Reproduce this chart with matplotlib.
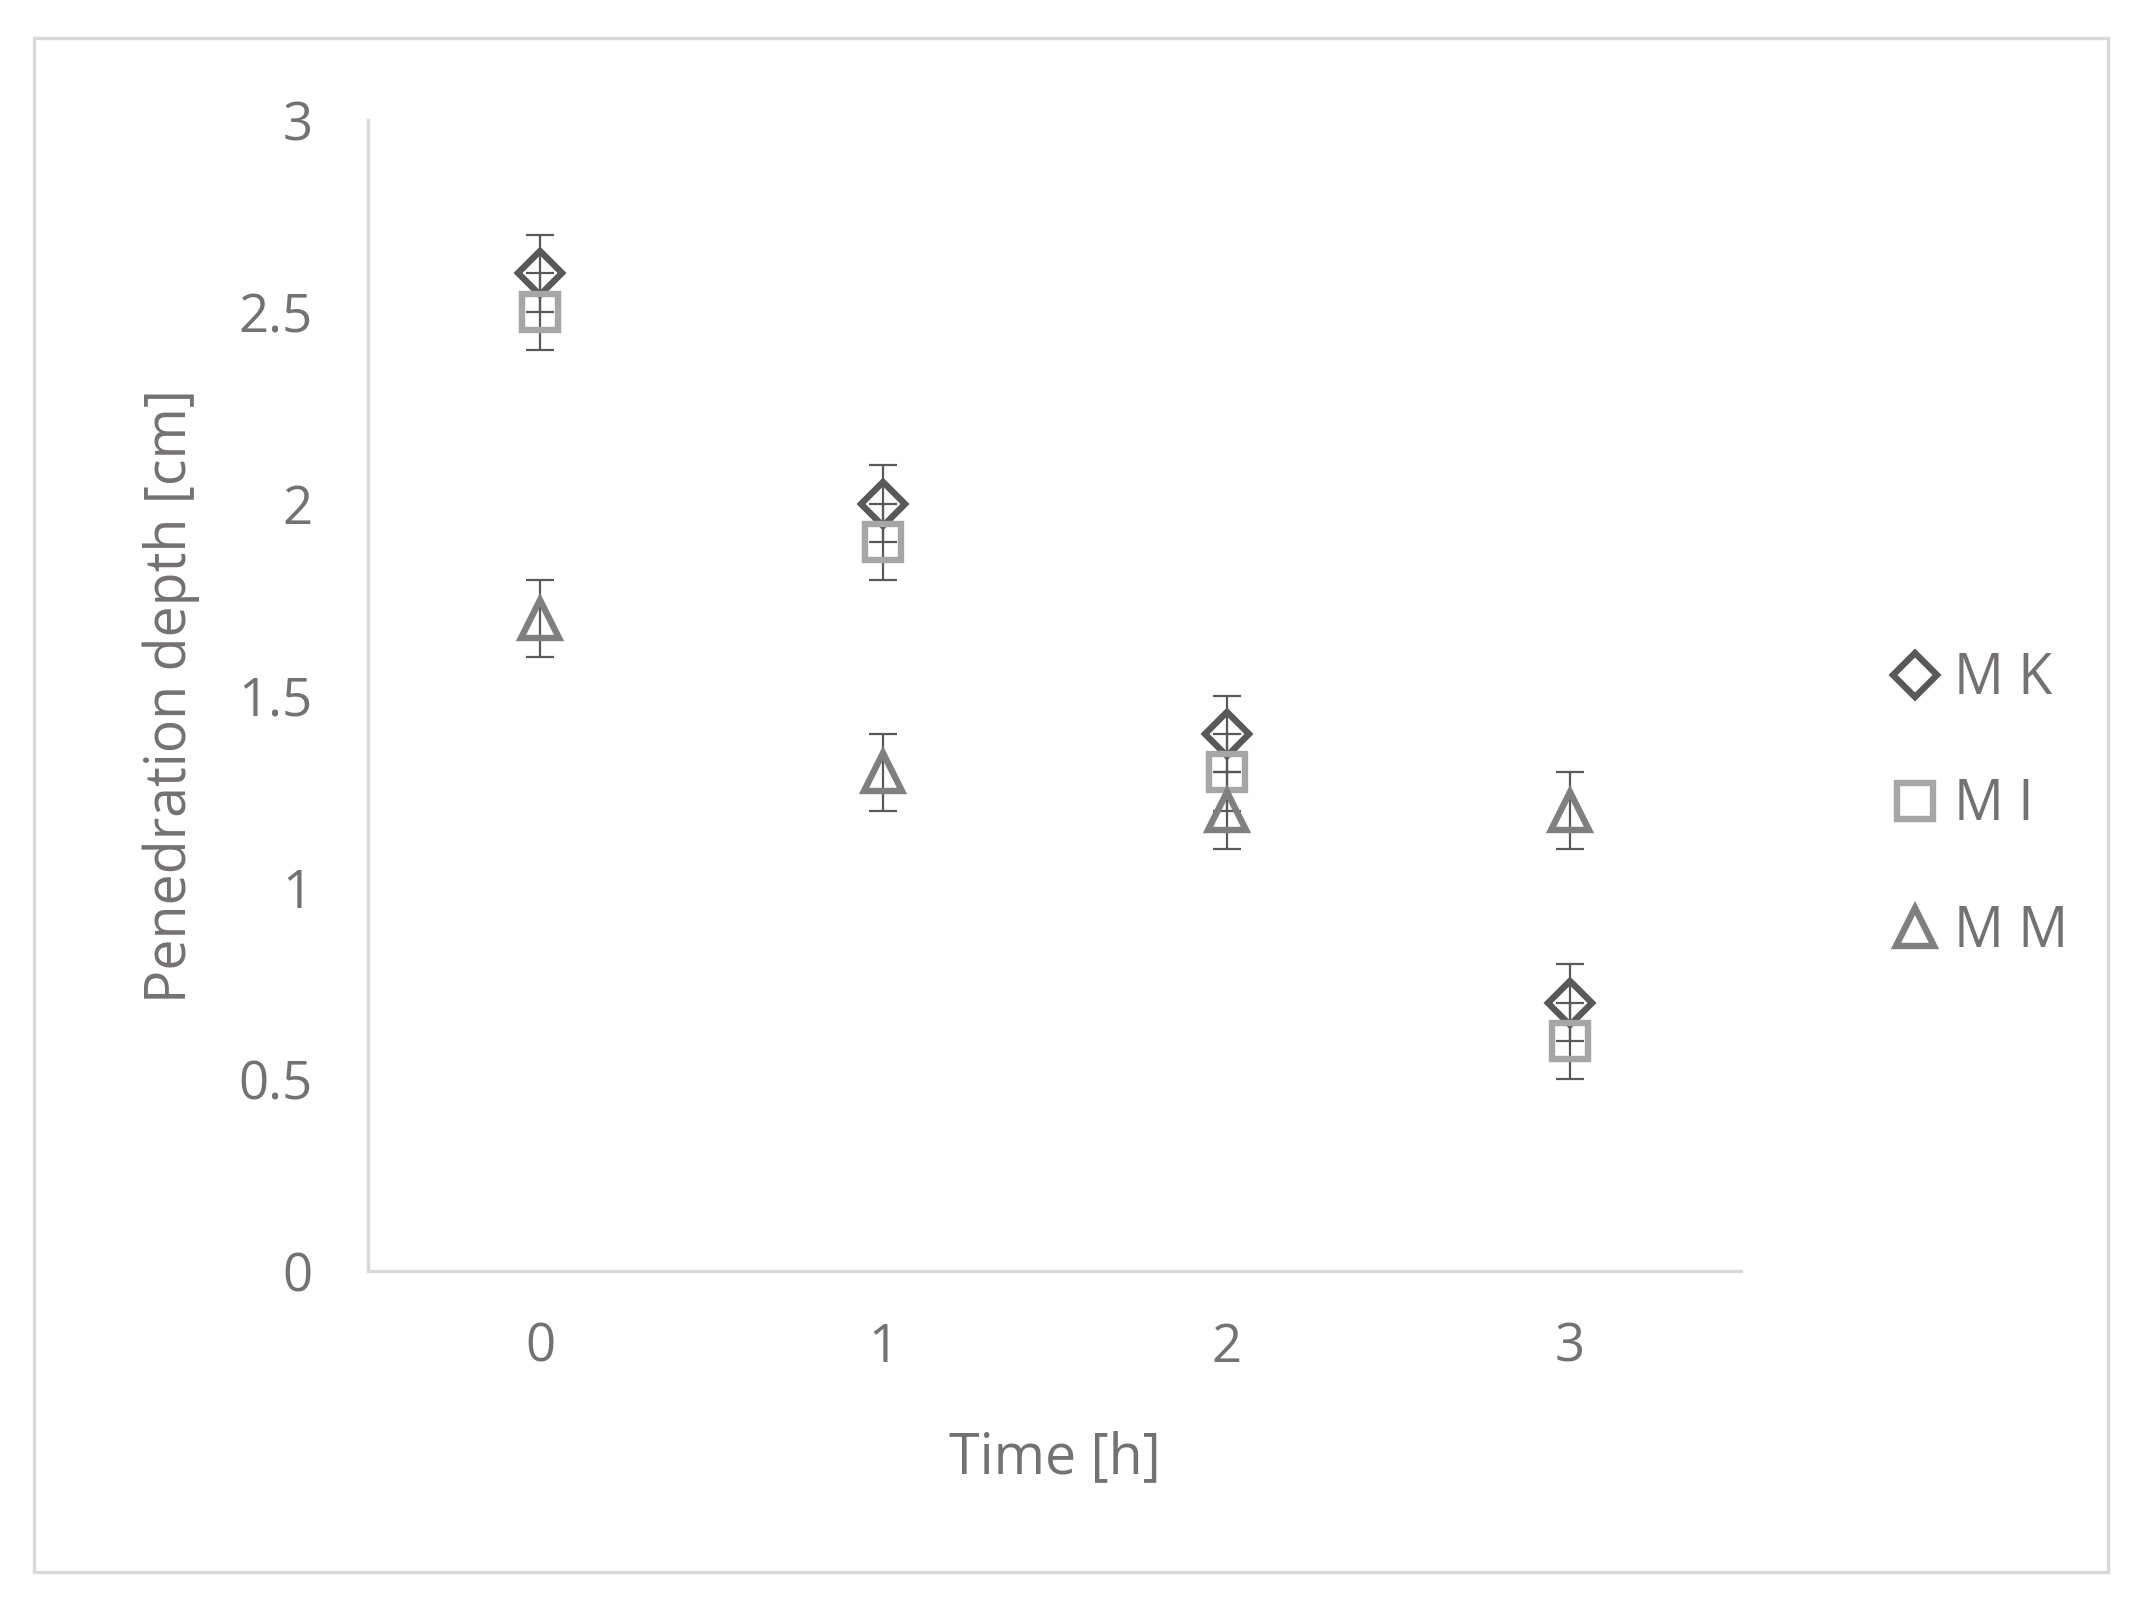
import matplotlib
matplotlib.use("Agg")
import matplotlib.pyplot as plt
from matplotlib.patches import Rectangle

times = [0, 1, 2, 3]
mk = [2.6, 2.0, 1.4, 0.7]
mi = [2.5, 1.9, 1.3, 0.6]
mm = [1.7, 1.3, 1.2, 1.2]
err_mk = [0.1, 0.1, 0.1, 0.1]
err_mi = [0.1, 0.1, 0.1, 0.1]
err_mm = [0.1, 0.1, 0.1, 0.1]
labels = ["M K", "M I", "M M"]

plt.rcParams['font.family'] = ['Open Sans', 'DejaVu Sans']
txt = '#767171'
fig = plt.figure(figsize=(10.71, 7.995), dpi=200)
ax = fig.add_axes([0.172, 0.205, 0.641, 0.72])

fig.patches.append(Rectangle((25/1568, 1-1150/1170), (1543-25)/1568, (1150-28)/1170,
                             transform=fig.transFigure, fill=False, ec='#d9d9d9', lw=1.2))

series = [(mk, err_mk, 'D', '#595959', 11), (mi, err_mi, 's', '#a6a6a6', 13), (mm, err_mm, '^', '#7f7f7f', 14)]
for (vals, err, m, c, ms), lab in zip(series, labels):
    ax.errorbar(times, vals, yerr=err, fmt='none', ecolor='#595959', elinewidth=0.8, capsize=5, capthick=0.8, zorder=2)
    ax.plot(times, vals, linestyle='none', marker=m, markersize=ms, markerfacecolor='none',
            markeredgecolor=c, markeredgewidth=2.3, label=lab, zorder=3)

ax.set_xlim(-0.5, 3.5)
ax.set_ylim(0, 3)
ax.set_xticks(times)
ax.set_yticks([0, 0.5, 1, 1.5, 2, 2.5, 3])
ax.set_yticklabels(['0', '0.5', '1', '1.5', '2', '2.5', '3'])
ax.tick_params(axis='y', length=0, labelsize=19, colors=txt, pad=20)
ax.tick_params(axis='x', length=0, labelsize=19, colors=txt, pad=18)
for s in ['top', 'right']:
    ax.spines[s].set_visible(False)
for s in ['left', 'bottom']:
    ax.spines[s].set_color('#d9d9d9')
    ax.spines[s].set_linewidth(1.2)
ax.set_xlabel("Time [h]", fontsize=20, color=txt, labelpad=20)
ax.set_ylabel("Penedration depth [cm]", fontsize=20, color=txt, labelpad=14)

leg = ax.legend(loc='center left', bbox_to_anchor=(0.855, 0.496), bbox_transform=fig.transFigure,
                frameon=False, fontsize=20, labelspacing=1.25, handletextpad=0.1, handlelength=1.2)
for t in leg.get_texts():
    t.set_color(txt)

fig.savefig("out.png", dpi=200)
